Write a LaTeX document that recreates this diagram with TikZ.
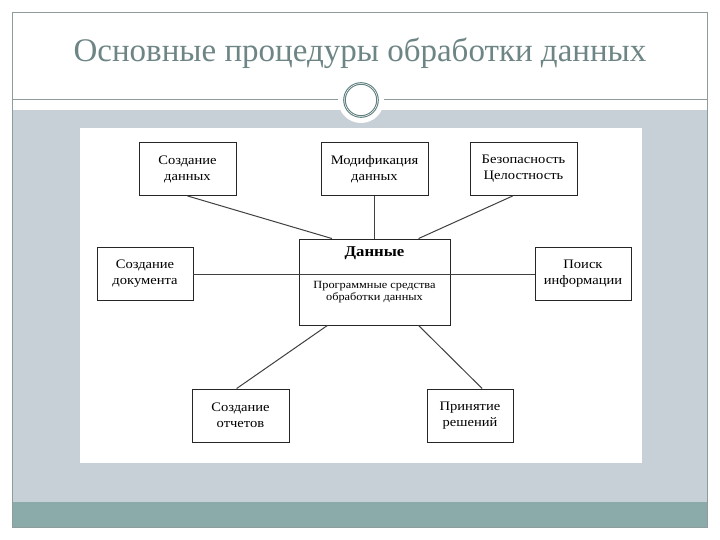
\documentclass[tikz,border=0pt]{standalone}
\usepackage{fontspec}
\setmainfont{Liberation Serif}
\newfontfamily\boxfont[FakeStretch=1.12]{Liberation Serif}
\usetikzlibrary{positioning, calc}
\definecolor{slidegray}{HTML}{C6D0D6}
\definecolor{slideteal}{HTML}{8BABAB}
\definecolor{titlegray}{HTML}{6E8585}
\definecolor{framegray}{HTML}{8E9C9C}
\definecolor{ringteal}{HTML}{5E7E7E}

\begin{document}
\begin{tikzpicture}[
    x=1pt, y=-1pt,
    procbox/.style={draw=black!85, line width=0.9pt, minimum width=#1,
                    minimum height=53pt, align=center, inner sep=2pt,
                    font=\boxfont\fontsize{13}{16}\selectfont},
    link/.style={draw=black!75, line width=1pt},
]
    % Slide background
    \useasboundingbox (0,0) rectangle (720,540);
    \fill[white] (0,0) rectangle (720,540);
    \fill[slidegray] (12,110) rectangle (707,502);
    \fill[slideteal] (12,502) rectangle (707,527);
    \draw[framegray, line width=0.8pt] (12,12) rectangle (707,527);
    \draw[framegray, line width=1pt] (12,100) -- (707,100);
    \fill[white] (361,100) circle (23);
    \draw[ringteal, line width=2.6pt] (361,100) circle (16.5);
    \draw[white, line width=0.5pt] (361,100) circle (16.5);
    \fill[white] (80,128) rectangle (642,463);

    % Title
    \node[font=\fontsize{33}{38}\selectfont, text=titlegray] (title) at (360,53)
        {Основные процедуры обработки данных};

    % Row 1
    \node[procbox=97pt] (cdata) at (187.5,169) {Создание\\данных};
    \node[procbox=107pt] (modif) at (374.5,169) {Модификация\\данных};
    \node[procbox=107pt] (secur) at (523.5,169) {Безопасность\\Целостность};

    % Row 2
    \node[procbox=96pt] (cdoc) at (145,274) {Создание\\документа};
    \node[draw=black!85, line width=0.9pt, minimum width=151pt, minimum height=86pt]
        (data) at (374.5,282) {};
    \node[procbox=96pt] (search) at (583,274) {Поиск\\информации};
    \node[font=\boxfont\bfseries\fontsize{15}{17}\selectfont] (datahead)
        at ($(data.north)+(0,15)$) {Данные};
    \node[font=\boxfont\fontsize{11}{12}\selectfont, align=center] (datasub)
        at ($(data.north)+(0,54)$) {Программные средства\\обработки данных};

    % Row 3
    \node[procbox=97pt] (reports) at (240.5,415.5) {Создание\\отчетов};
    \node[procbox=86pt] (decide) at (470,415.5) {Принятие\\решений};

    % Connections
    \draw[link] (cdata.south) -- ($(data.north west)!0.22!(data.north east)$);
    \draw[link] (modif.south) -- (data.north);
    \draw[link] ($(secur.south west)!0.4!(secur.south east)$) -- ($(data.north west)!0.79!(data.north east)$);
    \draw[link] (cdoc.east) -- (search.west);
    \draw[link] ($(data.south west)!0.19!(data.south east)$) -- ($(reports.north west)!0.46!(reports.north east)$);
    \draw[link] ($(data.south west)!0.79!(data.south east)$) -- ($(decide.north west)!0.64!(decide.north east)$);
\end{tikzpicture}
\end{document}
